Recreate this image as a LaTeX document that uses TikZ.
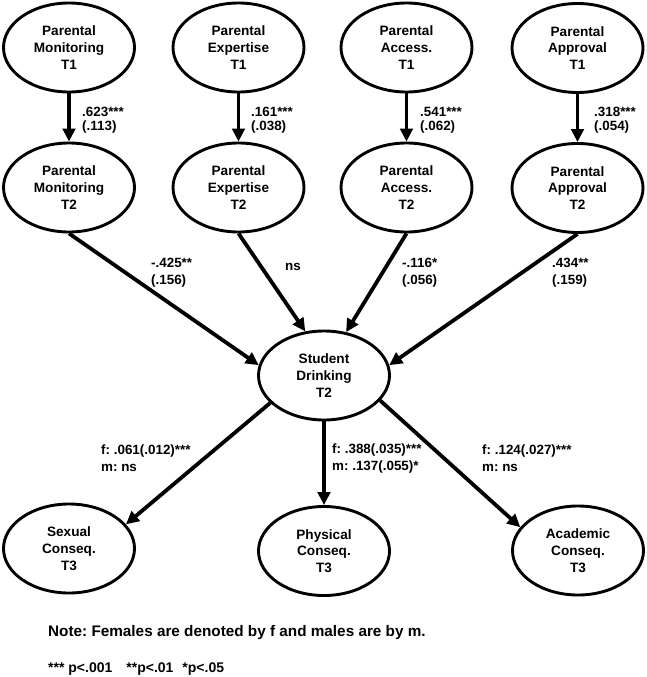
\documentclass[tikz,border=0pt]{standalone}
\usepackage{fontspec}
\setmainfont{Liberation Sans}
\usetikzlibrary{arrows.meta,shapes.geometric}
\frenchspacing
\begin{document}
\begin{tikzpicture}[x=1pt,y=-1pt,
  var/.style={ellipse, draw, line width=2.9pt, minimum width=131pt, minimum height=89pt,
    inner sep=0pt, align=center, font=\fontsize{13.6}{16.7}\selectfont\bfseries},
  conn/.style={line width=3.8pt, -{Triangle[length=13pt,width=12.5pt]}},
  lab/.style={anchor=west, align=left, inner sep=0pt, font=\fontsize{13.4}{17}\selectfont\bfseries},
  vlab/.style={lab, font=\fontsize{13.4}{14}\selectfont\bfseries},
  note/.style={anchor=west, inner sep=0pt, font=\fontsize{15.3}{18}\selectfont\bfseries},
  stars/.style={anchor=west, inner sep=0pt, font=\fontsize{14}{16}\selectfont\bfseries},
]
\useasboundingbox (0,0) rectangle (647,677);
\fill[white] (0,0) rectangle (647,677);

% top row
\node[var] (mon1) at (69,47.5) {Parental\\Monitoring\\T1};
\node[var] (exp1) at (238.5,47.5) {Parental\\Expertise\\T1};
\node[var] (acc1) at (406.5,47.5) {Parental\\Access.\\T1};
\node[var] (app1) at (577.5,48) {Parental\\Approval\\T1};
% second row
\node[var] (mon2) at (69,187.5) {Parental\\Monitoring\\T2};
\node[var] (exp2) at (238.5,187.5) {Parental\\Expertise\\T2};
\node[var] (acc2) at (406.5,187.5) {Parental\\Access.\\T2};
\node[var] (app2) at (577.5,188) {Parental\\Approval\\T2};
% centre
\node[var] (sd) at (324,375.5) {Student\\Drinking\\T2};
% bottom row
\node[var] (sex) at (69,548.5) {Sexual\\Conseq.\\T3};
\node[var] (phy) at (324,551) {Physical\\Conseq.\\T3};
\node[var] (aca) at (578,550.5) {Academic\\Conseq.\\T3};

% vertical arrows
\draw[conn] (mon1.south) -- (mon2.north);
\draw[conn] (exp1.south) -- (exp2.north);
\draw[conn] (acc1.south) -- (acc2.north);
\draw[conn] (app1.south) -- (app2.north);

% converging arrows
\draw[conn] (mon2.south) -- (sd.171);
\draw[conn] (exp2.south) -- (sd.113);
\draw[conn] (acc2.south) -- (sd.63);
\draw[conn] (app2.south) -- (sd.9);

% outgoing arrows
\draw[conn] (sd.-153) -- (sex.23);
\draw[conn] (sd.south) -- (phy.north);
\draw[conn] (sd.-24.5) -- (aca.158);

% labels
\node[vlab] (l1) at (82,120) {.623***\\(.113)};
\node[vlab] (l2) at (251,120) {.161***\\(.038)};
\node[vlab] (l3) at (420,120) {.541***\\(.062)};
\node[vlab] (l4) at (594,120) {.318***\\(.054)};

\node[lab] (l5) at (151,272.5) {-.425**\\(.156)};
\node[lab, anchor=center] (l6) at (293,267) {ns};
\node[lab] (l7) at (402,272.5) {-.116*\\(.056)};
\node[lab] (l8) at (552,272.5) {.434**\\(.159)};

\node[lab] (l9) at (101,458.5) {f: .061(.012)***\\m: ns};
\node[lab] (l10) at (332,458.5) {f: .388(.035)***\\m: .137(.055)*};
\node[lab] (l11) at (482,458.5) {f: .124(.027)***\\m: ns};

\node[note] (n1) at (48,633) {Note: Females are denoted by f and males are by m.};
\node[stars] (n2) at (48,669) {*** p<.001\hspace{14pt}**p<.01\hspace{9pt}*p<.05};
\end{tikzpicture}
\end{document}
